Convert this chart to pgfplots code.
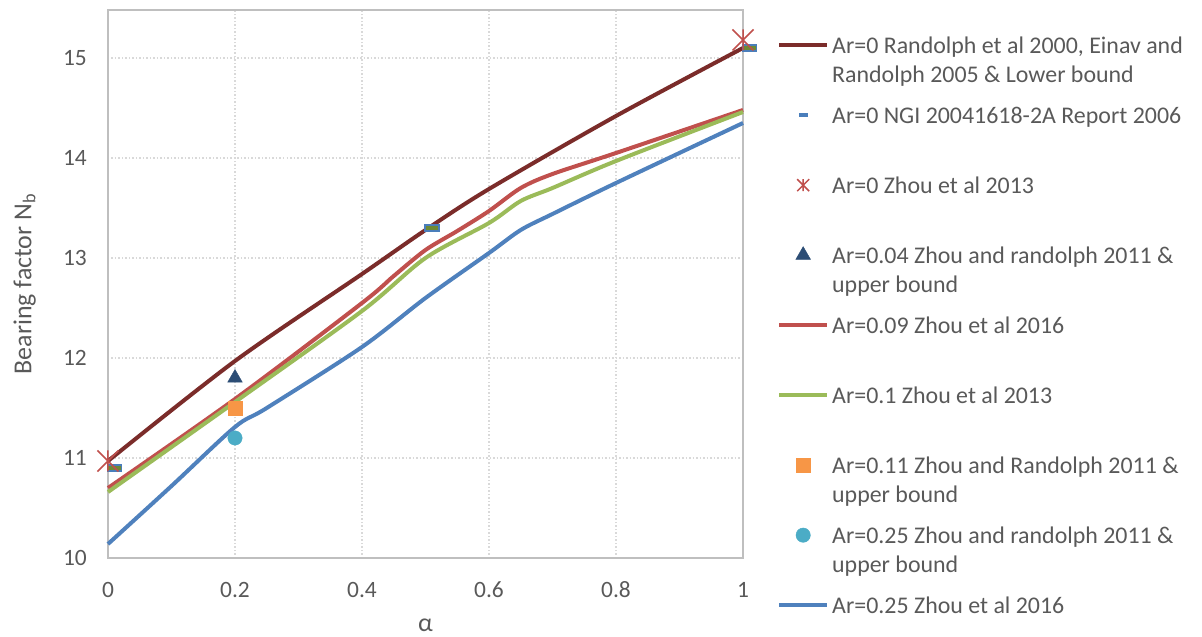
\documentclass[border=0pt]{standalone}
\usepackage{pgfplots}
\pgfplotsset{compat=1.18}
\usepackage{fontspec}
\setmainfont{Carlito}
\definecolor{cDR}{HTML}{7B2C2A}
\definecolor{cRed}{HTML}{C0504D}
\definecolor{cGrn}{HTML}{9BBB59}
\definecolor{cBlu}{HTML}{4F81BD}
\definecolor{cTri}{HTML}{2C4D75}
\definecolor{cSq}{HTML}{F79646}
\definecolor{cCir}{HTML}{4BACC6}
\definecolor{cNGId}{HTML}{4A7EBB}
\definecolor{cNGIf}{HTML}{6E8A35}
\definecolor{cTxt}{HTML}{595959}
\definecolor{cAx}{HTML}{BFBFBF}
\definecolor{cGrid}{HTML}{D9D9D9}
\pgfdeclareplotmark{xstar}{%
  \pgfpathmoveto{\pgfqpoint{-\pgfplotmarksize}{-\pgfplotmarksize}}%
  \pgfpathlineto{\pgfqpoint{\pgfplotmarksize}{\pgfplotmarksize}}%
  \pgfpathmoveto{\pgfqpoint{-\pgfplotmarksize}{\pgfplotmarksize}}%
  \pgfpathlineto{\pgfqpoint{\pgfplotmarksize}{-\pgfplotmarksize}}%
  \pgfpathmoveto{\pgfqpoint{0pt}{-\pgfplotmarksize}}%
  \pgfpathlineto{\pgfqpoint{0pt}{\pgfplotmarksize}}%
  \pgfusepathqstroke}
\pgfdeclareplotmark{dashrect}{%
  \pgfpathrectangle{\pgfqpoint{-\pgfplotmarksize}{-0.43\pgfplotmarksize}}{\pgfqpoint{2\pgfplotmarksize}{0.86\pgfplotmarksize}}%
  \pgfusepathqfillstroke}
\pgfplotsset{
  lineLeg/.style={legend image code/.code={\draw[##1] (0bp,45.7bp) -- (48bp,45.7bp);}},
  markLeg/.style={legend image code/.code={\draw[##1] plot coordinates {(24bp,45.7bp)};}},
}
\newcommand{\lgt}[2]{\raisebox{37.7bp}{\parbox[t]{370bp}{\strut #1\\\strut #2}}}
\begin{document}
\begin{tikzpicture}
\begin{axis}[
  at={(0,0)}, anchor=south west,
  scale only axis, width=635bp, height=548bp,
  xmin=0, xmax=1, ymin=10, ymax=15.48,
  xtick={0,0.2,0.4,0.6,0.8,1},
  xticklabels={0,0.2,0.4,0.6,0.8,1},
  ytick={10,11,12,13,14,15},
  yticklabels={10,11,12,13,14,15},
  major tick length=0pt,
  axis line style={color=cAx, line width=2bp},
  grid=major,
  major grid style={color=cGrid, line width=1.5bp, dash pattern=on 1.5bp off 2bp},
  tick label style={font=\fontsize{23.5}{28}\selectfont, text=cTxt},
  xticklabel style={anchor=center, inner sep=0pt, yshift=-31.5bp},
  yticklabel style={anchor=east, inner sep=0pt, xshift=-21bp},
  every axis x label/.style={at={(axis description cs:0.5,-0.1223)}, anchor=center, inner sep=0pt},
  every axis y label/.style={at={(axis description cs:-0.1312,0.5)}, rotate=90, anchor=center, inner sep=0pt},
  label style={font=\fontsize{26}{31}\selectfont, text=cTxt},
  xlabel={α},
  ylabel={Bearing factor N\textsubscript{b}},
  clip=false,
  legend style={at={(axis description cs:1.0535,0.9622)}, anchor=north west,
    draw=none, fill=none, inner sep=0pt, row sep=6.6bp, column sep=1bp,
    cells={anchor=base west, inner sep=0pt, text=cTxt},
    font=\fontsize{24}{29}\selectfont},
]
% lines
\addplot[forget plot, cDR, line width=4bp, smooth] coordinates {
  (0,10.97) (0.2,11.97) (0.4,12.84) (0.5,13.28) (0.6,13.69) (0.8,14.42) (1,15.1)};
\addplot[forget plot, cRed, line width=4bp, smooth] coordinates {
  (0,10.70) (0.2,11.59) (0.4,12.55) (0.45,12.82) (0.5,13.08) (0.55,13.27) (0.6,13.47) (0.65,13.70) (0.7,13.84) (0.8,14.05) (1,14.48)};
\addplot[forget plot, cGrn, line width=4bp, smooth] coordinates {
  (0,10.66) (0.2,11.56) (0.4,12.47) (0.5,13.0) (0.6,13.35) (0.65,13.57) (0.7,13.70) (0.8,13.97) (1,14.46)};
\addplot[forget plot, cBlu, line width=4bp, smooth] coordinates {
  (0,10.14) (0.1,10.72) (0.2,11.31) (0.25,11.5) (0.4,12.11) (0.5,12.6) (0.6,13.05) (0.65,13.28) (0.7,13.44) (0.8,13.75) (1,14.35)};
% markers
\addplot[forget plot, only marks, mark=dashrect, mark size=7bp, draw=cNGId, fill=cNGIf, line width=1.5bp] coordinates {
  (0.01,10.9) (0.51,13.3) (1.01,15.1)};
\addplot[forget plot, only marks, mark=xstar, mark size=10.5bp, draw=cRed, line width=1.5bp] coordinates {
  (0,10.97) (1,15.18)};
\addplot[forget plot, only marks, mark=triangle*, mark size=8.5bp, color=cTri] coordinates {(0.2,11.8)};
\addplot[forget plot, only marks, mark=square*, mark size=7bp, color=cSq] coordinates {(0.2,11.5)};
\addplot[forget plot, only marks, mark=*, mark size=7.2bp, color=cCir] coordinates {(0.2,11.2)};
% legend
\addlegendimage{lineLeg, color=cDR, line width=4bp}
\addlegendentry{\lgt{Ar=0 Randolph et al 2000, Einav and}{Randolph 2005 \& Lower bound}}
\addlegendimage{markLeg, mark=dashrect, mark size=4bp, draw=cNGId, fill=cNGId, line width=1bp}
\addlegendentry{\lgt{Ar=0 NGI 20041618-2A Report 2006}{}}
\addlegendimage{markLeg, mark=xstar, mark size=6bp, draw=cRed, line width=1.5bp}
\addlegendentry{\lgt{Ar=0 Zhou et al 2013}{}}
\addlegendimage{markLeg, mark=triangle*, mark size=8.5bp, color=cTri}
\addlegendentry{\lgt{Ar=0.04 Zhou and randolph 2011 \&}{upper bound}}
\addlegendimage{lineLeg, color=cRed, line width=4bp}
\addlegendentry{\lgt{Ar=0.09 Zhou et al 2016}{}}
\addlegendimage{lineLeg, color=cGrn, line width=4bp}
\addlegendentry{\lgt{Ar=0.1 Zhou et al 2013}{}}
\addlegendimage{markLeg, mark=square*, mark size=7bp, color=cSq}
\addlegendentry{\lgt{Ar=0.11 Zhou and Randolph 2011 \&}{upper bound}}
\addlegendimage{markLeg, mark=*, mark size=7.2bp, color=cCir}
\addlegendentry{\lgt{Ar=0.25 Zhou and randolph 2011 \&}{upper bound}}
\addlegendimage{lineLeg, color=cBlu, line width=4bp}
\addlegendentry{\lgt{Ar=0.25 Zhou et al 2016}{}}
\end{axis}
\pgfresetboundingbox
\useasboundingbox (-108bp,-79bp) rectangle (1094bp,558bp);
\end{tikzpicture}
\end{document}
